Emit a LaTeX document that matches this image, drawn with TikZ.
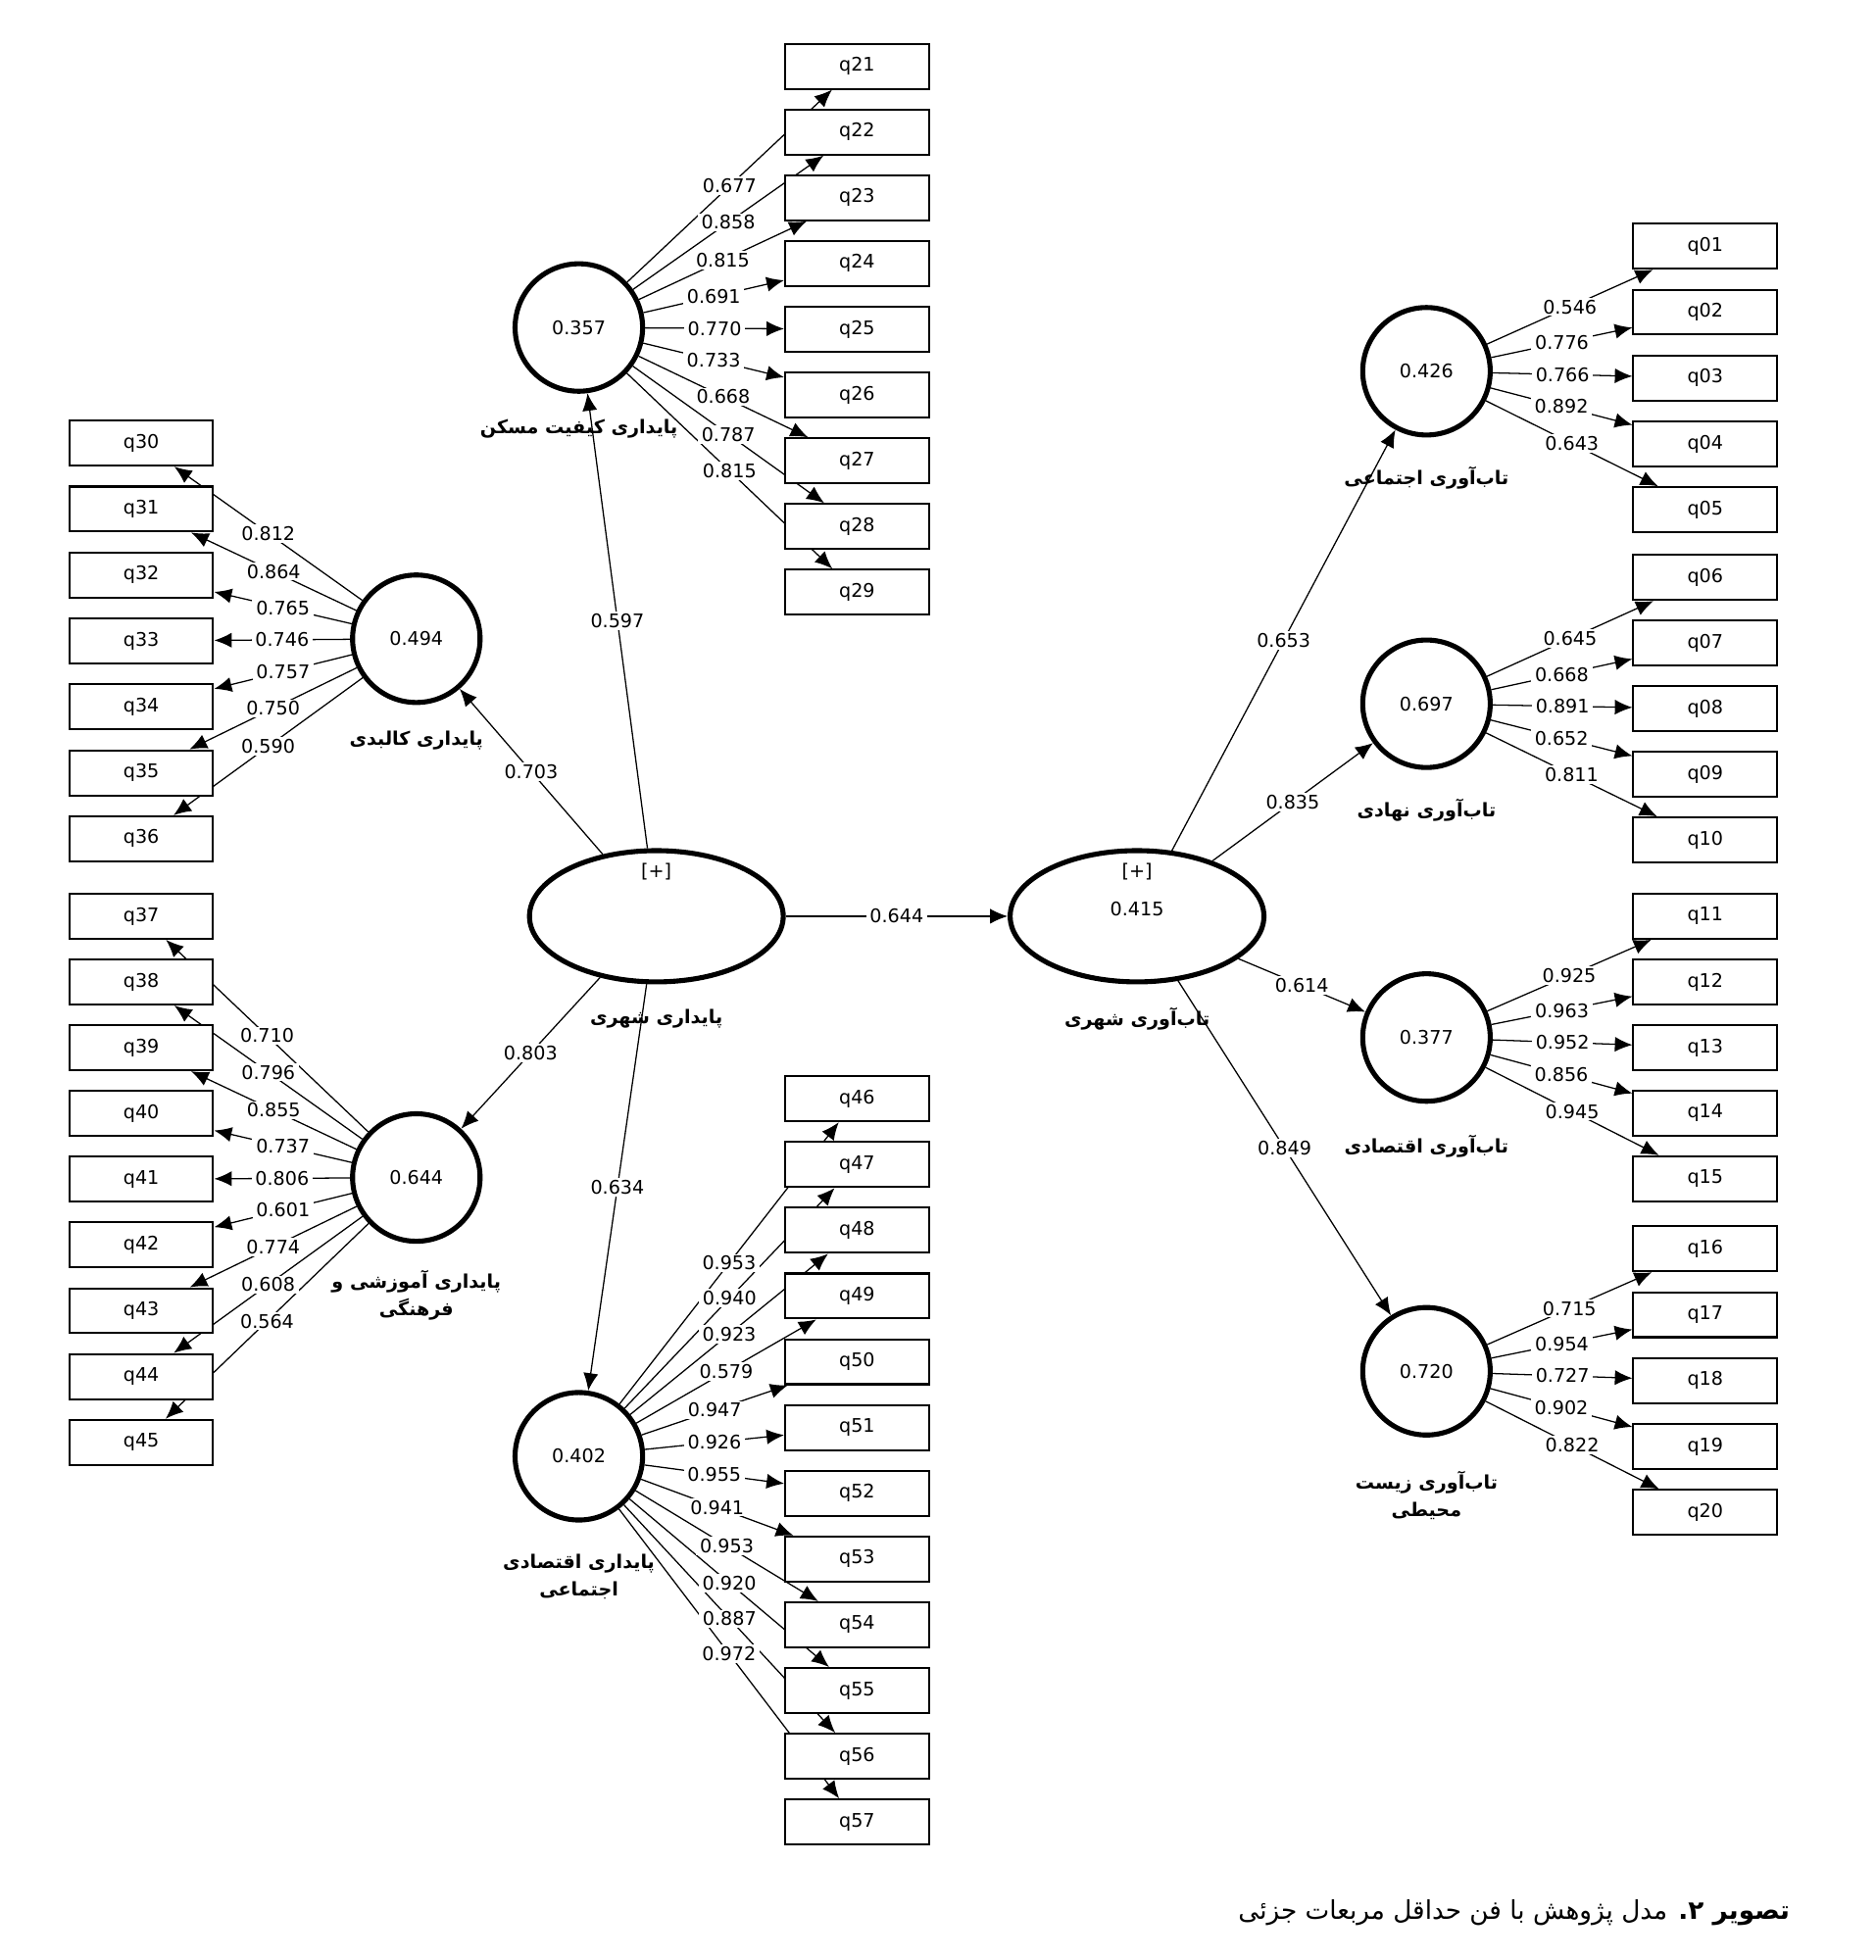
\documentclass[tikz,border=0pt]{standalone}
\usepackage{fontspec}
\setmainfont{DejaVu Sans}
\newfontfamily\fafont[Script=Arabic]{DejaVu Sans}
\TeXXeTstate=1
\usetikzlibrary{arrows.meta,shapes.geometric}
\newcommand{\rtltext}[1]{\beginR #1\endR}
\pgfdeclarelayer{bg}
\pgfsetlayers{bg,main}

\tikzset{
	latent/.style={circle,draw,line width=2pt,fill=white,minimum size=51pt,inner sep=0pt,font=\fontsize{7.5}{9}\selectfont},
	higher/.style={ellipse,draw,line width=2pt,fill=white,minimum width=101.5pt,minimum height=52.5pt,inner sep=0pt},
	item/.style={rectangle,draw,line width=0.8pt,fill=white,minimum width=57.5pt,minimum height=18pt,inner sep=0pt,font=\fontsize{7.5}{9}\selectfont},
	loading/.style={fill=white,inner xsep=1.5pt,inner ysep=0.8pt,font=\fontsize{7.5}{9}\selectfont},
	plus/.style={inner sep=0pt,font=\fontsize{7.5}{9}\selectfont},
	link/.style={line width=0.5pt,-{Latex[length=7pt,width=6pt]}},
	faname/.style={font=\fafont\bfseries\fontsize{7.5}{11}\selectfont,align=center,inner sep=0pt},
}

\begin{document}
\begin{tikzpicture}[x=0.5pt,y=-0.5pt]
	\useasboundingbox (0,0) rectangle (1500,1568);
%	\draw[help lines] (0,0) grid[step=100] (1500,1568);

	% second order constructs
	\node[higher] (ush) at (525,733) {};
	\node[higher] (ures) at (909.5,733) {};
	\node[plus] (ushplus) at (525,697) {[+]};
	\node[plus] (uresplus) at (909.5,697) {[+]};
	\node[plus] (uresval) at (909.5,727) {0.415};
	\node[faname] (ushname) at (525,815) {\rtltext{پایداری شهری}};
	\node[faname] (uresname) at (909.5,815) {\rtltext{تاب^^^^200cآوری شهری}};

	% first order constructs
	\node[latent] (house) at (463,262) {0.357};
	\node[latent] (phys) at (333,511) {0.494};
	\node[latent] (edu) at (333,942) {0.644};
	\node[latent] (econ) at (463,1165) {0.402};
	\node[latent] (rsoc) at (1141,297) {0.426};
	\node[latent] (rinst) at (1141,563) {0.697};
	\node[latent] (reco) at (1141,830) {0.377};
	\node[latent] (renv) at (1141,1097) {0.720};

	\node[faname] (housename) at (463,343) {\rtltext{پایداری کیفیت مسکن}};
	\node[faname] (physname) at (333,592) {\rtltext{پایداری کالبدی}};
	\node[faname] (eduname) at (333,1036) {\rtltext{پایداری آموزشی و}\\\rtltext{فرهنگی}};
	\node[faname] (econname) at (463,1261) {\rtltext{پایداری اقتصادی}\\\rtltext{اجتماعی}};
	\node[faname] (rsocname) at (1141,382) {\rtltext{تاب^^^^200cآوری اجتماعی}};
	\node[faname] (rinstname) at (1141,648) {\rtltext{تاب^^^^200cآوری نهادی}};
	\node[faname] (reconame) at (1141,917) {\rtltext{تاب^^^^200cآوری اقتصادی}};
	\node[faname] (renvname) at (1141,1196) {\rtltext{تاب^^^^200cآوری زیست}\\\rtltext{محیطی}};

	% indicators
	\foreach \n [count=\k from 0] in {21,...,29}
		\node[item] (q\n) at (685.5,53+52.6*\k) {q\n};
	\foreach \n [count=\k from 0] in {30,...,36}
		\node[item] (q\n) at (113,354.5+52.75*\k) {q\n};
	\foreach \n [count=\k from 0] in {37,...,45}
		\node[item] (q\n) at (113,733+52.6*\k) {q\n};
	\foreach \n [count=\k from 0] in {46,...,57}
		\node[item] (q\n) at (685.5,879+52.6*\k) {q\n};
	\foreach \n [count=\k from 0] in {01,02,03,04,05}
		\node[item] (q\n) at (1364,197+52.7*\k) {q\n};
	\foreach \n [count=\k from 0] in {06,07,08,09,10}
		\node[item] (q\n) at (1364,462+52.5*\k) {q\n};
	\foreach \n [count=\k from 0] in {11,...,15}
		\node[item] (q\n) at (1364,733+52.5*\k) {q\n};
	\foreach \n [count=\k from 0] in {16,...,20}
		\node[item] (q\n) at (1364,999+52.75*\k) {q\n};

	% structural paths
	\foreach \from/\to/\v in {ush/house/0.597,ush/phys/0.703,ush/edu/0.803,ush/econ/0.634,ush/ures/0.644,
		ures/rsoc/0.653,ures/rinst/0.835,ures/reco/0.614,ures/renv/0.849} {
		\begin{pgfonlayer}{bg}
			\draw[link] (\from) -- (\to);
		\end{pgfonlayer}
		\path (\from) -- node[loading] {\v} (\to);
	}

	% outer loadings
	\foreach \lv/\n/\v in {house/21/0.677,house/22/0.858,house/23/0.815,house/24/0.691,house/25/0.770,
		house/26/0.733,house/27/0.668,house/28/0.787,house/29/0.815,
		phys/30/0.812,phys/31/0.864,phys/32/0.765,phys/33/0.746,phys/34/0.757,phys/35/0.750,phys/36/0.590,
		edu/37/0.710,edu/38/0.796,edu/39/0.855,edu/40/0.737,edu/41/0.806,edu/42/0.601,edu/43/0.774,
		edu/44/0.608,edu/45/0.564,
		econ/46/0.953,econ/47/0.940,econ/48/0.923,econ/49/0.579,econ/50/0.947,econ/51/0.926,
		econ/52/0.955,econ/53/0.941,econ/54/0.953,econ/55/0.920,econ/56/0.887,econ/57/0.972,
		rsoc/01/0.546,rsoc/02/0.776,rsoc/03/0.766,rsoc/04/0.892,rsoc/05/0.643,
		rinst/06/0.645,rinst/07/0.668,rinst/08/0.891,rinst/09/0.652,rinst/10/0.811,
		reco/11/0.925,reco/12/0.963,reco/13/0.952,reco/14/0.856,reco/15/0.945,
		renv/16/0.715,renv/17/0.954,renv/18/0.727,renv/19/0.902,renv/20/0.822} {
		\begin{pgfonlayer}{bg}
			\draw[link] (\lv) -- (q\n);
		\end{pgfonlayer}
		\path (\lv) -- node[loading] {\v} (q\n);
	}

	% caption
	\node[anchor=east,inner sep=0pt,font=\fafont\fontsize{10.3}{12}\selectfont] (caption) at (1432,1530)
		{\rtltext{\textbf{تصویر ۲.} مدل پژوهش با فن حداقل مربعات جزئی}};
\end{tikzpicture}
\end{document}
